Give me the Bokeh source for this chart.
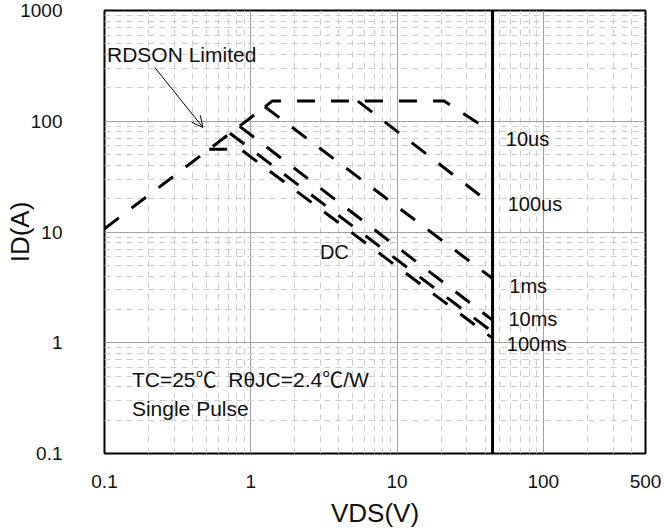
from bokeh.plotting import figure
from bokeh.models import FixedTicker, CustomJSTickFormatter, Arrow, OpenHead
from bokeh.core.properties import value
from bokeh.embed import file_html
from bokeh.resources import INLINE

# ---- data ----
x_ticks = [0.1, 1, 10, 100, 500]
x_minor = [0.2, 0.3, 0.4, 0.5, 0.6, 0.7, 0.8, 0.9, 2, 3, 4, 5, 6, 7, 8, 9,
           20, 30, 40, 50, 60, 70, 80, 90, 200, 300, 400]
y_ticks = [0.1, 1, 10, 100, 1000]
y_minor = [0.2, 0.3, 0.4, 0.5, 0.6, 0.7, 0.8, 0.9, 2, 3, 4, 5, 6, 7, 8, 9,
           20, 30, 40, 50, 60, 70, 80, 90, 200, 300, 400, 500, 600, 700, 800, 900]

rdson_v = [0.1, 1.25]
rdson_i = [10.7, 135]

us10_v = [1.25, 1.4, 21, 45]
us10_i = [135, 152, 152, 79]

us100_v = [5.4, 45]
us100_i = [152, 17.5]

ms1_v = [1.25, 45]
ms1_i = [135, 3.8]

ms10_v = [0.84, 45]
ms10_i = [90, 1.6]

ms100_v = [0.72, 45]
ms100_i = [78, 1.25]

dc_v = [0.52, 0.85, 45]
dc_i = [56, 56, 1.1]

vds_max = 45
vmax_i = [0.1, 1000]

curve_labels = ["10us", "100us", "1ms", "10ms", "100ms", "DC"]
curve_label_v = [55.5, 57.1, 58.6, 57.8, 56.3, 2.97]
curve_label_i = [68.6, 17.9, 3.27, 1.65, 0.965, 6.6]

note_labels = ["RDSON Limited", "TC=25\u2103\u00a0\u00a0R\u03b8JC=2.4\u2103/W", "Single Pulse"]
note_v = [0.104, 0.154, 0.154]
note_i = [398, 0.468, 0.257]

arrow_start = (0.221, 305)
arrow_end = (0.471, 88)

FONT = "Liberation Sans"
NOTE_FONT = "Liberation Sans, Noto Sans CJK SC"

p = figure(width=666, height=530, x_axis_type="log", y_axis_type="log",
           x_range=(0.1, 500), y_range=(0.1, 1000),
           output_backend="svg", toolbar_location=None, title=None,
           min_border_left=104, min_border_right=21, min_border_top=10,
           min_border_bottom=75)

p.xaxis.ticker = FixedTicker(ticks=x_ticks, minor_ticks=x_minor)
p.yaxis.ticker = FixedTicker(ticks=y_ticks, minor_ticks=y_minor)
p.xaxis.formatter = CustomJSTickFormatter(code="return String(tick);")
p.yaxis.formatter = CustomJSTickFormatter(code="return String(tick);")

for ax in (p.xaxis, p.yaxis):
    ax.axis_line_color = None
    ax.major_tick_line_color = None
    ax.minor_tick_line_color = None
    ax.major_tick_out = 0
    ax.major_tick_in = 0
    ax.minor_tick_out = 0
    ax.minor_tick_in = 0
    ax.major_label_text_font = FONT
    ax.major_label_text_font_size = "19px"
    ax.major_label_text_color = "#111111"
    ax.axis_label_text_font = FONT
    ax.axis_label_text_font_style = "normal"
    ax.axis_label_text_font_size = "26px"
    ax.axis_label_text_color = "#111111"

p.xaxis.axis_label = "VDS(V)"
p.yaxis.axis_label = "ID(A)"
p.xaxis.major_label_standoff = 21
p.xaxis.axis_label_standoff = 7
p.yaxis.major_label_standoff = 42
p.yaxis.axis_label_standoff = -18

for g in (p.xgrid, p.ygrid):
    g.grid_line_color = "#a0a0a0"
    g.grid_line_width = 1
    g.minor_grid_line_color = "#cccccc"
    g.minor_grid_line_width = 1
    g.minor_grid_line_dash = "6 5"

p.outline_line_color = "black"
p.outline_line_width = 2
p.outline_line_alpha = 1.0

dash = "18 16"
lw = 3
for xs, ys in [(rdson_v, rdson_i), (us10_v, us10_i), (us100_v, us100_i),
               (ms1_v, ms1_i), (ms10_v, ms10_i), (ms100_v, ms100_i),
               (dc_v, dc_i)]:
    p.line(xs, ys, line_color="black", line_width=lw, line_dash=dash)

p.line([vds_max, vds_max], vmax_i, line_color="black", line_width=3)

p.text(x=curve_label_v, y=curve_label_i, text=curve_labels,
       text_font=value(FONT), text_font_size=value("20px"),
       text_baseline="middle", text_align="left", text_color="#111111")
p.text(x=note_v, y=note_i, text=note_labels,
       text_font=value(NOTE_FONT), text_font_size=value("21px"),
       text_baseline="middle", text_align="left", text_color="#111111")

p.add_layout(Arrow(end=OpenHead(size=11, line_width=1, line_color="black"),
                   x_start=arrow_start[0], y_start=arrow_start[1],
                   x_end=arrow_end[0], y_end=arrow_end[1],
                   line_width=1, line_color="black"))

open("out.html", "w").write(file_html(p, INLINE))
